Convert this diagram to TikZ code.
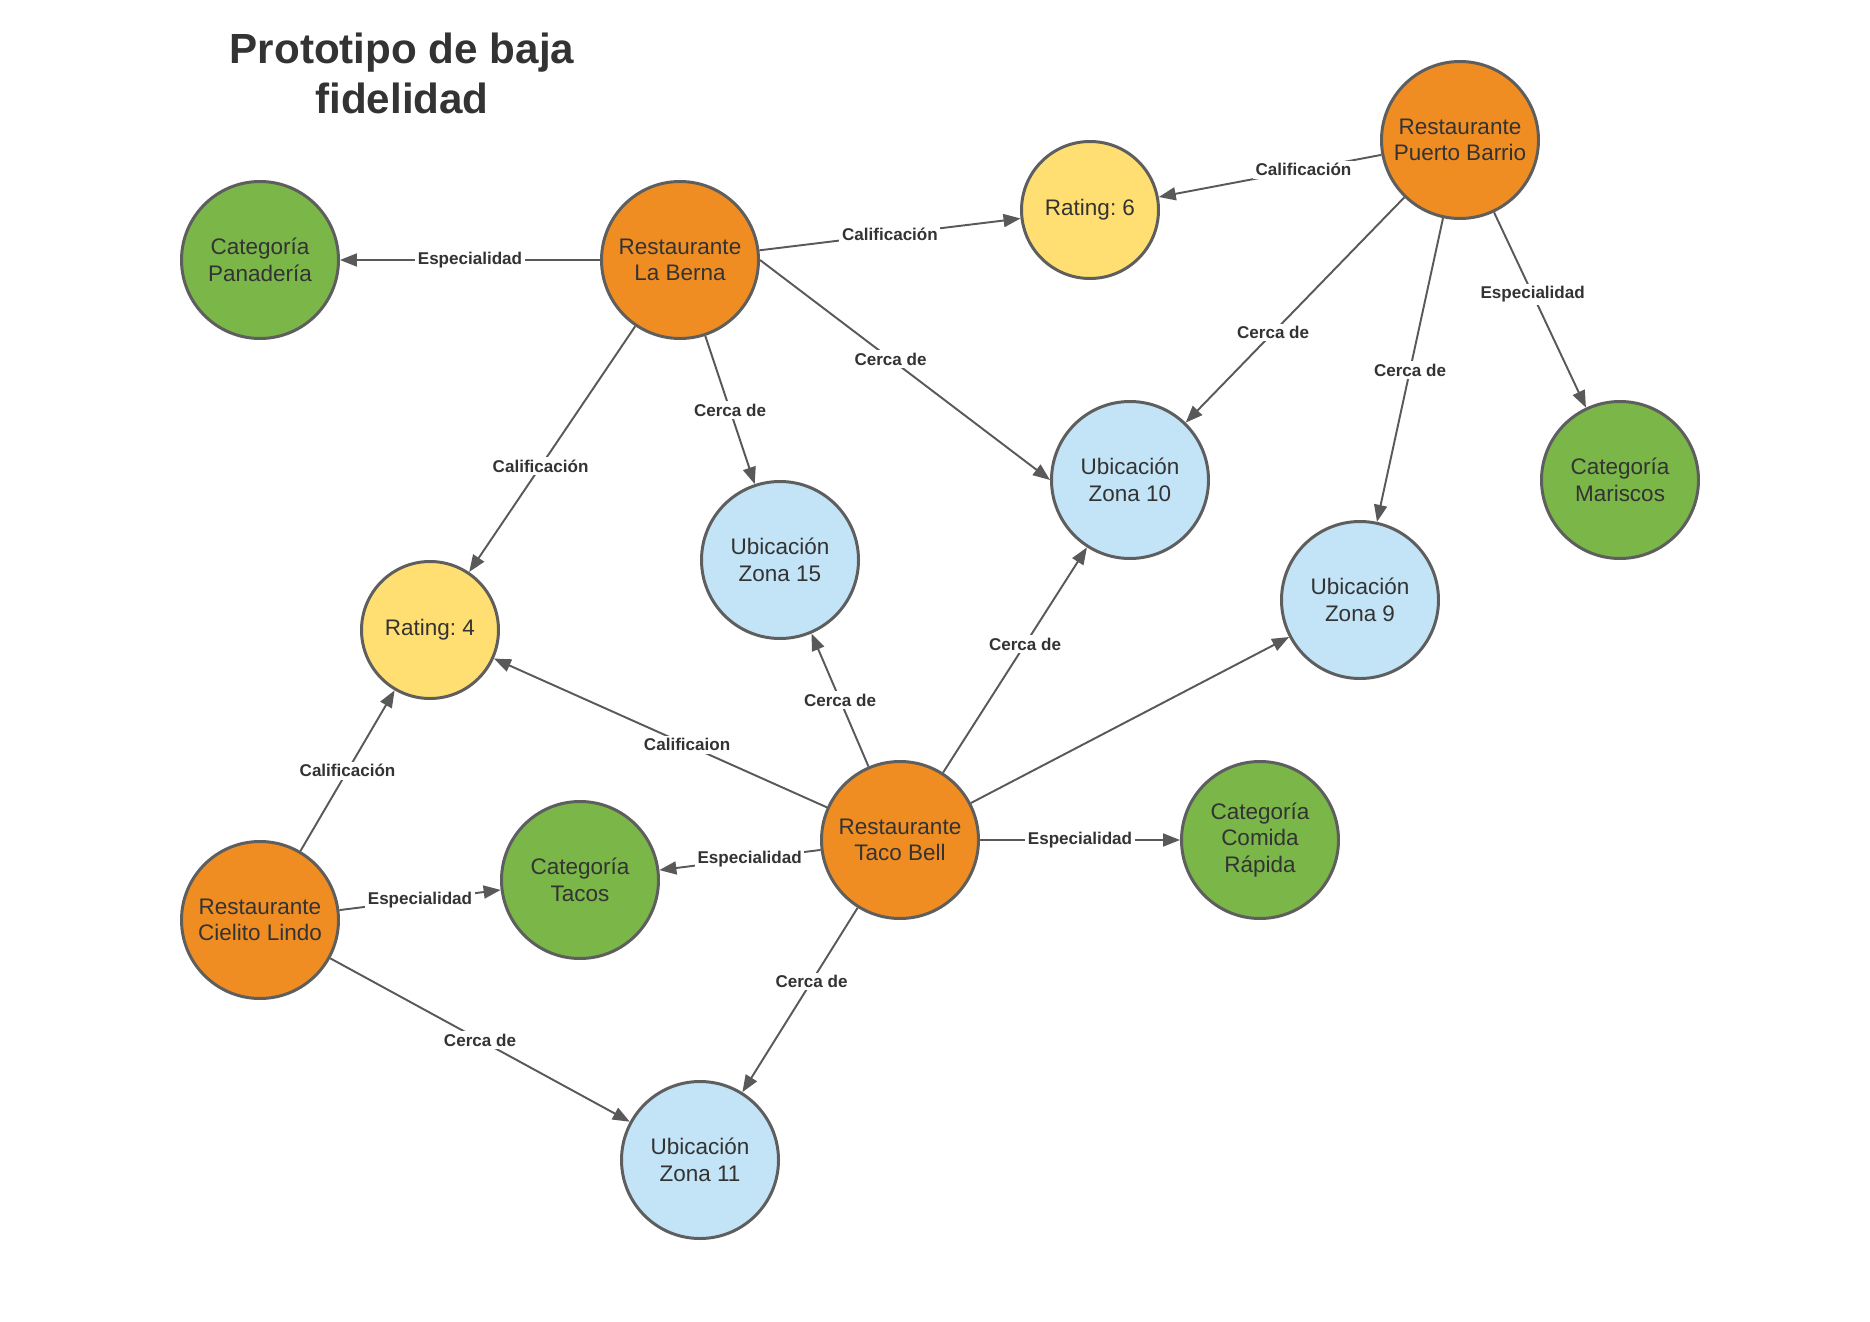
\documentclass[tikz,border=0pt]{standalone}
\usepackage{fontspec}
\setmainfont{Liberation Sans}
\usetikzlibrary{arrows.meta}
\definecolor{naranja}{HTML}{EF8D22}
\definecolor{verde}{HTML}{7AB648}
\definecolor{celeste}{HTML}{C2E4F6}
\definecolor{amarillo}{HTML}{FFDF71}
\definecolor{borde}{HTML}{5E5E5E}
\definecolor{linea}{HTML}{595959}
\definecolor{texto}{HTML}{333333}
\begin{document}
\begin{tikzpicture}[every node/.style={draw=borde, circle, line width=1.7pt, minimum size=3.14cm, inner sep=0pt, align=center, text=texto, font=\fontsize{12.8}{15.1}\selectfont},
  resto/.style={fill=naranja}, ubic/.style={fill=celeste}, categ/.style={fill=verde},
  rate/.style={fill=amarillo, minimum size=2.74cm},
  lbl/.style={draw=none, fill=white, rectangle, minimum size=0pt, inner sep=1.5pt, font=\bfseries\fontsize{9.7}{11}\selectfont},
  titulo/.style={draw=none, fill=none, rectangle, minimum size=0pt, font=\bfseries\fontsize{24}{28.5}\selectfont},
  flecha/.style={draw=linea, line width=1.1pt, -{Triangle[length=0.34cm, width=0.26cm]}}]
  \useasboundingbox (0,0) rectangle (37.4,-26.44);
  \node[titulo] (T) at (8.04,-1.46) {Prototipo de baja\\fidelidad};

  \node[categ] (panad) at (5.2,-5.2) {Categoría\\Panadería};
  \node[resto] (berna) at (13.6,-5.2) {Restaurante\\La Berna};
  \node[rate] (rat6) at (21.8,-4.2) {Rating:\ 6};
  \node[resto] (puerto) at (29.2,-2.8) {Restaurante\\Puerto Barrio};
  \node[ubic] (zona10) at (22.6,-9.6) {Ubicación\\Zona 10};
  \node[categ] (marisc) at (32.4,-9.6) {Categoría\\Mariscos};
  \node[ubic] (zona9) at (27.2,-12.0) {Ubicación\\Zona 9};
  \node[ubic] (zona15) at (15.6,-11.2) {Ubicación\\Zona 15};
  \node[rate] (rat4) at (8.6,-12.6) {Rating:\ 4};
  \node[resto] (taco) at (18.0,-16.8) {Restaurante\\Taco Bell};
  \node[categ] (comida) at (25.2,-16.8) {Categoría\\Comida\\Rápida};
  \node[categ] (tacos) at (11.6,-17.6) {Categoría\\Tacos};
  \node[resto] (cielito) at (5.2,-18.4) {Restaurante\\Cielito Lindo};
  \node[ubic] (zona11) at (14.0,-23.2) {Ubicación\\Zona 11};

  % La Berna
  \draw[flecha] (berna) -- node[lbl] {Especialidad} (panad);
  \draw[flecha] (berna) -- node[lbl] {Calificación} (rat6);
  \draw[flecha] (berna.east) -- node[lbl, pos=0.45] {Cerca de} (zona10.west);
  \draw[flecha] (berna) -- node[lbl] {Cerca de} (zona15);
  \draw[flecha] (berna) -- node[lbl, pos=0.57] {Calificación} (rat4);
  % Puerto Barrio
  \draw[flecha] (puerto) -- node[lbl, pos=0.35] {Calificación} (rat6);
  \draw[flecha] (puerto) -- node[lbl, pos=0.6] {Cerca de} (zona10);
  \draw[flecha] (puerto) -- node[lbl] {Cerca de} (zona9);
  \draw[flecha] (puerto) -- node[lbl, pos=0.42] {Especialidad} (marisc);
  % Taco Bell
  \draw[flecha] (taco) -- node[lbl, pos=0.42] {Calificaion} (rat4);
  \draw[flecha] (taco) -- node[lbl] {Cerca de} (zona15);
  \draw[flecha] (taco) -- node[lbl, pos=0.57] {Cerca de} (zona10);
  \draw[flecha] (taco) -- (zona9);
  \draw[flecha] (taco) -- node[lbl] {Especialidad} (comida);
  \draw[flecha] (taco) -- node[lbl, pos=0.44] {Especialidad} (tacos);
  \draw[flecha] (taco) -- node[lbl, pos=0.4] {Cerca de} (zona11);
  % Cielito Lindo
  \draw[flecha] (cielito) -- node[lbl] {Calificación} (rat4);
  \draw[flecha] (cielito) -- node[lbl] {Especialidad} (tacos);
  \draw[flecha] (cielito) -- node[lbl] {Cerca de} (zona11);
\end{tikzpicture}
\end{document}
